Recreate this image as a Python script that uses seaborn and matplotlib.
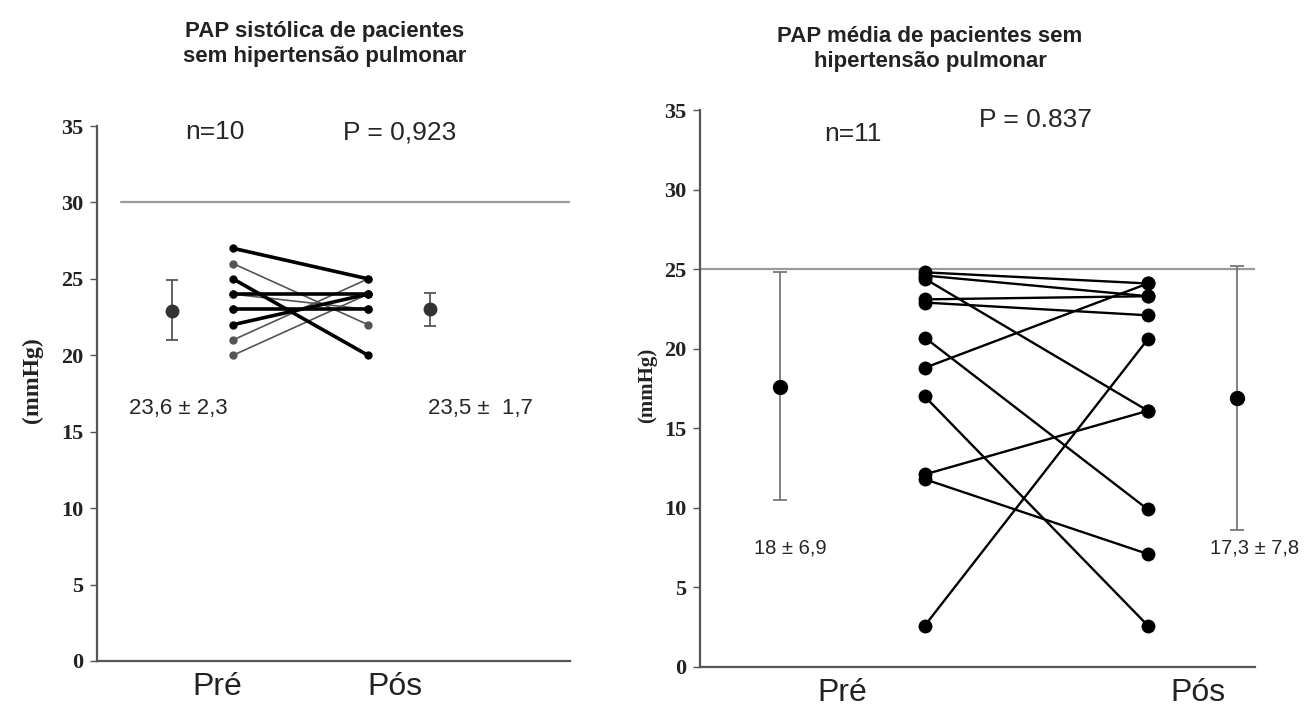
import numpy as np
import pandas as pd
import matplotlib
matplotlib.use('Agg')
import matplotlib.pyplot as plt
import seaborn as sns

# values (mmHg)
sis_pre = [27, 26, 25, 24, 23, 22, 21, 20, 24, 23]
sis_pos = [25, 22, 20, 24, 23, 24, 25, 24, 23, 23]
sis_thick = [1, 0, 1, 1, 1, 1, 0, 0, 0, 0]
sis_err_mean = [22.9, 23.0]
sis_err_low = [21.0, 21.9]
sis_err_high = [24.9, 24.1]

med_pre = [24.8, 24.4, 23.1, 22.9, 20.7, 18.8, 17.0, 12.1, 11.8, 2.6, 24.6]
med_pos = [24.1, 16.1, 23.3, 22.1, 9.9, 24.1, 2.6, 16.1, 7.1, 20.6, 23.3]
med_err_mean = [17.6, 16.9]
med_err_low = [10.5, 8.6]
med_err_high = [24.8, 25.2]

time_labels = ['Pré', 'Pós']
yticks = [0, 5, 10, 15, 20, 25, 30, 35]

sns.set_style('white')
plt.rcParams['font.family'] = ['Liberation Sans', 'DejaVu Sans']

fig = plt.figure(figsize=(13.08, 7.14), dpi=100)
ax1 = fig.add_axes([97 / 1308, 1 - 661 / 714, 473 / 1308, 535 / 714])
ax2 = fig.add_axes([700 / 1308, 1 - 667 / 714, 555 / 1308, 557 / 714])


def long_df(pre, pos, xpre, xpos, extra=None):
    rows = []
    for i, (a, b) in enumerate(zip(pre, pos)):
        w = extra[i] if extra is not None else 1
        rows.append({'sub': i, 'x': xpre, 'val': a, 'w': w})
        rows.append({'sub': i, 'x': xpos, 'val': b, 'w': w})
    return pd.DataFrame(rows)


def style_axes(ax, ref, ref_from, label_x, label_y, xt, label_size):
    ax.set_xlim(0, 10)
    ax.set_ylim(0, 35)
    ax.set_yticks(yticks)
    ax.set_yticklabels([str(t) for t in yticks], family='Liberation Serif',
                       fontweight='bold', fontsize=16, color='#222222')
    ax.set_xticks(xt)
    ax.set_xticklabels(time_labels, fontsize=23, color='#222222')
    ax.tick_params(axis='x', length=0, pad=8)
    ax.tick_params(axis='y', length=5, width=1, color='#555555', left=True,
                   direction='out', pad=5)
    for s in ['top', 'right']:
        ax.spines[s].set_visible(False)
    for s in ['left', 'bottom']:
        ax.spines[s].set_color('#555555')
        ax.spines[s].set_linewidth(1.6)
    ax.axhline(ref, xmin=ref_from, xmax=1, color='#9a9a9a', lw=1.6, zorder=1)
    ax.set_ylabel('(mmHg)', family='Liberation Serif', fontweight='bold',
                  fontsize=label_size, color='#222222')
    ax.yaxis.set_label_coords(label_x, label_y)
    ax.set_xlabel('')


# ---- left panel: PAP sistolica ----
xp1, xq1 = 2.875, 5.73
d1 = long_df(sis_pre, sis_pos, xp1, xq1, sis_thick)
sns.lineplot(data=d1[d1['w'] == 0], x='x', y='val', units='sub', estimator=None,
             color='#555555', lw=1.2, marker='o', markersize=6,
             markeredgewidth=0, ax=ax1, legend=False)
sns.lineplot(data=d1[d1['w'] == 1], x='x', y='val', units='sub', estimator=None,
             color='black', lw=2.6, marker='o', markersize=6,
             markeredgewidth=0, ax=ax1, legend=False)
ex1 = [1.59, 7.04]
ax1.errorbar(ex1, sis_err_mean,
             yerr=[np.subtract(sis_err_mean, sis_err_low),
                   np.subtract(sis_err_high, sis_err_mean)],
             fmt='o', color='#333333', ecolor='#555555', elinewidth=1.3,
             capsize=4, capthick=1.3, markersize=9, zorder=3)
style_axes(ax1, 30, 0.05, -0.115, 0.525, [2.54, 6.3], 17)
ax1.text(2.5, 34.6, 'n=10', ha='center', va='center', fontsize=19)
ax1.text(6.4, 34.6, 'P = 0,923', ha='center', va='center', fontsize=19)
ax1.text(1.72, 16.5, '23,6 ± 2,3', ha='center', va='center', fontsize=16)
ax1.text(8.1, 16.5, '23,5 ±  1,7', ha='center', va='center', fontsize=16)

# ---- right panel: PAP media ----
xp2, xq2 = 4.05, 8.07
d2 = long_df(med_pre, med_pos, xp2, xq2)
sns.lineplot(data=d2, x='x', y='val', units='sub', estimator=None,
             color='black', lw=1.7, marker='o', markersize=10,
             markeredgewidth=0, ax=ax2, legend=False)
ex2 = [1.44, 9.68]
ax2.errorbar(ex2, med_err_mean,
             yerr=[np.subtract(med_err_mean, med_err_low),
                   np.subtract(med_err_high, med_err_mean)],
             fmt='o', color='black', ecolor='#777777', elinewidth=1.3,
             capsize=5, capthick=1.3, markersize=10, zorder=3)
style_axes(ax2, 25, 0.0, -0.078, 0.506, [2.56, 8.97], 15)
ax2.text(2.76, 33.5, 'n=11', ha='center', va='center', fontsize=19)
ax2.text(6.04, 34.4, 'P = 0.837', ha='center', va='center', fontsize=19)
ax2.text(1.62, 7.5, '18 ± 6,9', ha='center', va='center', fontsize=14.5)
ax2.text(10.0, 7.5, '17,3 ± 7,8', ha='center', va='center', fontsize=14.5)

fig.text(325 / 1308, 1 - 44 / 714,
         'PAP sistólica de pacientes\nsem hipertensão pulmonar',
         ha='center', va='center', fontsize=16, fontweight='bold',
         color='#222222', linespacing=1.2)
fig.text(930 / 1308, 1 - 49 / 714,
         'PAP média de pacientes sem\nhipertensão pulmonar',
         ha='center', va='center', fontsize=16, fontweight='bold',
         color='#222222', linespacing=1.2)

fig.savefig('out.png', dpi=100, facecolor='white')
